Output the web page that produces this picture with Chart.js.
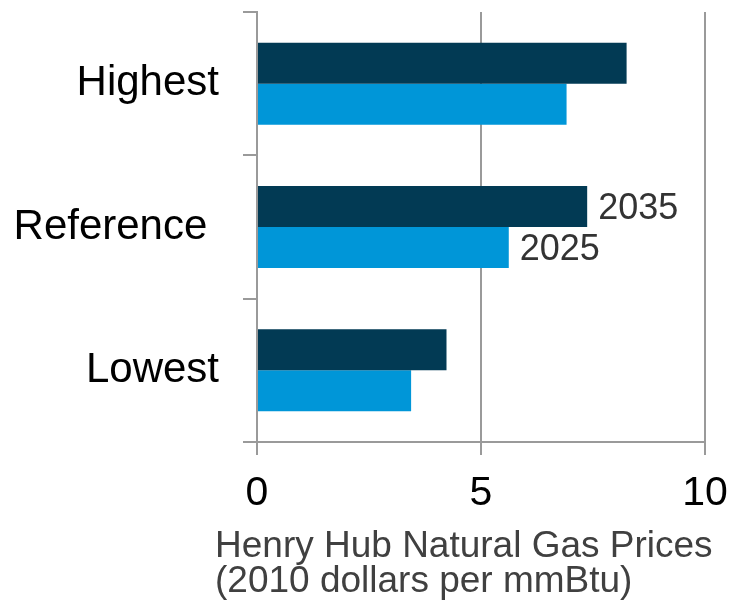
<!DOCTYPE html>
<html>
<head>
<meta charset="utf-8">
<script src="https://cdn.jsdelivr.net/npm/chart.js@4/dist/chart.umd.min.js"></script>
<style>
  html, body { margin: 0; padding: 0; background: #fff; }
  #wrap { width: 731px; height: 603px; }
</style>
</head>
<body>
<div id="wrap"><canvas id="gas-chart" width="731" height="603"></canvas></div>
<script>
// scenario categories, top to bottom
const categories = ['Highest', 'Reference ', 'Lowest'];
const seriesNames = ['2035', '2025'];
const prices2035 = [8.25, 7.37, 4.23];
const prices2025 = [6.91, 5.62, 3.44];
const xTicks = [0, 5, 10];
const axisTitle = ['Henry Hub Natural Gas Prices', '(2010 dollars per mmBtu)'];
const labeledCategory = 1; // series names are written next to the Reference bars

const FONT = "'Liberation Sans', Arial, sans-serif";
const GRID = '#9a9a9a';

// writes "2035" / "2025" beside the Reference bars, and the two-line axis title
const annotations = {
  id: 'annotations',
  afterDatasetsDraw(chart) {
    const { ctx } = chart;
    ctx.save();
    ctx.font = '36px ' + FONT;
    ctx.fillStyle = '#333333';
    ctx.textAlign = 'left';
    ctx.textBaseline = 'middle';
    chart.data.datasets.forEach((ds, i) => {
      const bar = chart.getDatasetMeta(i).data[labeledCategory];
      if (bar) ctx.fillText(ds.label, bar.x + 11, bar.y + 3);
    });

    ctx.font = '37px ' + FONT;
    ctx.fillStyle = '#404040';
    ctx.textBaseline = 'alphabetic';
    axisTitle.forEach((line, i) => ctx.fillText(line, 215, 557 + i * 35));
    ctx.restore();
  }
};

new Chart(document.getElementById('gas-chart'), {
  type: 'bar',
  data: {
    labels: categories,
    datasets: [
      { label: seriesNames[0], data: prices2035, backgroundColor: '#023a54' },
      { label: seriesNames[1], data: prices2025, backgroundColor: '#0096d8' },
    ],
  },
  options: {
    indexAxis: 'y',
    responsive: false,
    animation: false,
    categoryPercentage: 0.572,
    barPercentage: 1,
    layout: { autoPadding: false, padding: { top: 12, right: 26, left: 0, bottom: 0 } },
    plugins: {
      legend: { display: false },
      tooltip: { enabled: false },
    },
    scales: {
      x: {
        min: 0,
        max: 10,
        afterBuildTicks: scale => { scale.ticks = xTicks.map(v => ({ value: v })); },
        afterFit: scale => {
          scale.height = 161;
          scale.paddingLeft = 0;
          scale.paddingRight = 0;
        },
        grid: { color: GRID, lineWidth: 2, tickLength: 13, drawTicks: true },
        border: { color: GRID, width: 2 },
        ticks: { color: '#000', font: { family: FONT, size: 41 }, padding: 14, maxRotation: 0 },
      },
      y: {
        afterFit: scale => {
          scale.width = 257;
          scale.paddingTop = 0;
          scale.paddingBottom = 0;
        },
        grid: { color: GRID, lineWidth: 2, drawOnChartArea: false, tickLength: 14, offset: true },
        border: { color: GRID, width: 2 },
        ticks: { color: '#000', font: { family: FONT, size: 42 }, padding: 24 },
      },
    },
  },
  plugins: [annotations],
});
</script>
</body>
</html>
